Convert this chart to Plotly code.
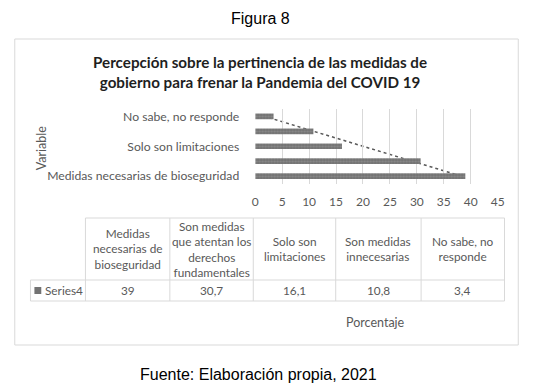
import plotly.graph_objects as go
import numpy as np

W, H = 539, 388

# ---- data ----
categories = [
    "Medidas necesarias de bioseguridad",
    "Son medidas que atentan los derechos fundamentales",
    "Solo son limitaciones",
    "Son medidas innecesarias",
    "No sabe, no responde",
]
header_labels = [
    "Medidas<br>necesarias de<br>bioseguridad",
    "Son medidas<br>que atentan los<br>derechos<br>fundamentales",
    "Solo son<br>limitaciones",
    "Son medidas<br>innecesarias",
    "No sabe, no<br>responde",
]
values = [39, 30.7, 16.1, 10.8, 3.4]
value_labels = ["39", "30,7", "16,1", "10,8", "3,4"]
series_name = "Series4"
x_ticks = [0, 5, 10, 15, 20, 25, 30, 35, 40, 45]
shown_y_ticks = [0, 2, 4]

def px(x):
    return x / W

def py(y):
    return 1 - y / H

GRID = "#d9d9d9"
TXT = "#595959"
BAR = "#737373"
FONT = "Lato"

idx = list(range(len(categories)))

fig = go.Figure()
fig.add_trace(go.Bar(
    x=values, y=idx, orientation="h", width=0.38,
    marker=dict(color=BAR, line=dict(width=0),
                pattern=dict(shape=".", fgcolor="#a0a0a0", size=3, solidity=0.4)),
    showlegend=False, hoverinfo="x+y",
))

# linear trendline computed from the data (drawn below bars)
slope, intercept = np.polyfit(np.array(idx, dtype=float), np.array(values, dtype=float), 1)
shapes = [
    dict(type="line", xref="x", yref="y", layer="below",
         x0=intercept, y0=idx[0], x1=intercept + slope * idx[-1], y1=idx[-1],
         line=dict(color="#595959", width=1.5, dash="dot")),
    # outer chart border
    dict(type="rect", xref="paper", yref="paper", x0=px(12), x1=px(525), y0=py(345), y1=py(39),
         line=dict(color=GRID, width=1)),
]

# ---- data table ----
col_edges = [84, 170, 255, 339, 426, 511]
t_top, t_mid, t_bot = 218, 280, 301
key_left = 28
for xe in col_edges:
    shapes.append(dict(type="line", xref="paper", yref="paper", x0=px(xe), x1=px(xe),
                       y0=py(t_bot), y1=py(t_top), line=dict(color=GRID, width=1)))
shapes.append(dict(type="line", xref="paper", yref="paper", x0=px(key_left), x1=px(key_left),
                   y0=py(t_bot), y1=py(t_mid), line=dict(color=GRID, width=1)))
shapes.append(dict(type="line", xref="paper", yref="paper", x0=px(col_edges[0]), x1=px(col_edges[-1]),
                   y0=py(t_top), y1=py(t_top), line=dict(color=GRID, width=1)))
for yy in (t_mid, t_bot):
    shapes.append(dict(type="line", xref="paper", yref="paper", x0=px(key_left), x1=px(col_edges[-1]),
                       y0=py(yy), y1=py(yy), line=dict(color=GRID, width=1)))
# legend key square
shapes.append(dict(type="rect", xref="paper", yref="paper", x0=px(32), x1=px(39),
                   y0=py(294), y1=py(287), fillcolor=BAR, line=dict(width=0)))

annotations = []
for i in range(len(header_labels)):
    cx = (col_edges[i] + col_edges[i + 1]) / 2
    annotations.append(dict(xref="paper", yref="paper", x=px(cx), y=py((t_top + t_mid) / 2),
                            text=header_labels[i], showarrow=False, xanchor="center", yanchor="middle",
                            font=dict(family=FONT, size=11.8, color=TXT)))
    annotations.append(dict(xref="paper", yref="paper", x=px(cx), y=py((t_mid + t_bot) / 2),
                            text=value_labels[i], showarrow=False, xanchor="center", yanchor="middle",
                            font=dict(family=FONT, size=11.8, color=TXT)))
annotations.append(dict(xref="paper", yref="paper", x=px(41), y=py((t_mid + t_bot) / 2),
                        text=series_name, showarrow=False, xanchor="left", yanchor="middle",
                        font=dict(family=FONT, size=11.8, color=TXT)))

# titles and captions
annotations += [
    dict(xref="paper", yref="paper", x=px(262), y=py(18), text="Figura 8", showarrow=False,
         xanchor="center", yanchor="middle", font=dict(family="Liberation Sans", size=16, color="#000000")),
    dict(xref="paper", yref="paper", x=px(262), y=py(72),
         text="<b>Percepción sobre la pertinencia de las medidas de<br>gobierno para frenar la Pandemia del COVID 19</b>",
         showarrow=False, xanchor="center", yanchor="middle",
         font=dict(family=FONT, size=15.2, color="#1f1f1f")),
    dict(xref="paper", yref="paper", x=px(39), y=py(148), text="Variable", showarrow=False, textangle=-90,
         xanchor="center", yanchor="middle", font=dict(family=FONT, size=12.5, color=TXT)),
    dict(xref="paper", yref="paper", x=px(380), y=py(322), text="Porcentaje", showarrow=False,
         xanchor="center", yanchor="middle", font=dict(family=FONT, size=12.5, color=TXT)),
    dict(xref="paper", yref="paper", x=px(260), y=py(374), text="Fuente: Elaboración propia, 2021",
         showarrow=False, xanchor="center", yanchor="middle",
         font=dict(family="Liberation Sans", size=16, color="#000000")),
]

fig.update_layout(
    width=W, height=H, margin=dict(l=0, r=0, t=0, b=0),
    paper_bgcolor="white", plot_bgcolor="white",
    shapes=shapes, annotations=annotations, showlegend=False,
    xaxis=dict(domain=[px(257), px(504)], range=[0, 45], tickvals=x_ticks,
               showgrid=True, gridcolor=GRID, gridwidth=1, zeroline=False, showline=False,
               ticks="", ticklabelstandoff=9,
               tickfont=dict(family=FONT, size=12, color=TXT)),
    yaxis=dict(domain=[py(183.5), py(109)], range=[-0.5, 4.5],
               tickvals=shown_y_ticks, ticktext=[categories[i] for i in shown_y_ticks],
               showgrid=False, zeroline=False, showline=False, ticks="", ticklabelstandoff=15,
               tickfont=dict(family=FONT, size=12.2, color=TXT)),
)

fig.write_html("out.html", config={"displayModeBar": False},
               post_script="document.body.style.margin='0';document.body.style.overflow='hidden';")
